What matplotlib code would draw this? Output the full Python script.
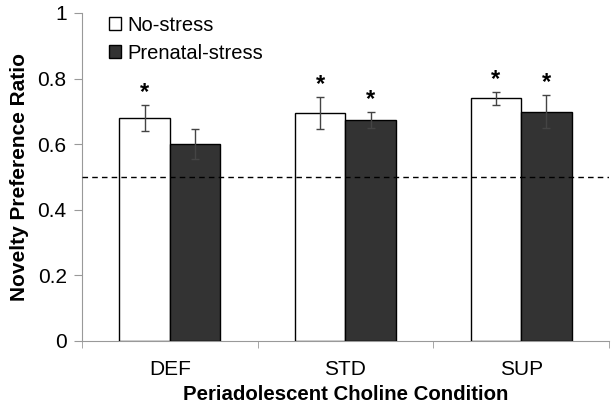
import matplotlib.pyplot as plt
import numpy as np

plt.rcParams["font.family"] = ["Liberation Sans", "DejaVu Sans"]

conditions = ["DEF", "STD", "SUP"]
groups = ["No-stress", "Prenatal-stress"]
no_stress = [0.679, 0.694, 0.740]
no_stress_err = [0.040, 0.049, 0.020]
prenatal = [0.600, 0.674, 0.699]
prenatal_err = [0.045, 0.024, 0.050]
no_stress_sig = [True, True, True]
prenatal_sig = [False, True, True]
chance = 0.5

fig = plt.figure(figsize=(6.12, 4.04), dpi=100)
ax = fig.add_axes([0.134, 0.156, 0.861, 0.812])

x = np.arange(len(conditions))
w = 0.287
err_kw = dict(ecolor="#444444", elinewidth=1, capsize=3, capthick=1)
ax.bar(x - w / 2, no_stress, w, yerr=no_stress_err, color="white",
       edgecolor="black", linewidth=1, label=groups[0], error_kw=err_kw, zorder=3)
ax.bar(x + w / 2, prenatal, w, yerr=prenatal_err, color="#333333",
       edgecolor="black", linewidth=1, label=groups[1], error_kw=err_kw, zorder=3)

for xs, vals, errs, sig in [(x - w / 2, no_stress, no_stress_err, no_stress_sig),
                            (x + w / 2, prenatal, prenatal_err, prenatal_sig)]:
    for xi, v, e, s in zip(xs, vals, errs, sig):
        if s:
            ax.text(xi, v + e + 0.003, "*", ha="center", va="bottom",
                    fontsize=17, fontweight="bold", zorder=4)

ax.axhline(chance, color="black", linestyle=(0, (4, 3)), linewidth=1, zorder=4)

ax.set_xlim(-0.5, len(conditions) - 0.5)
ax.set_ylim(0, 1)
ax.set_yticks([0, 0.2, 0.4, 0.6, 0.8, 1])
ax.set_yticklabels(["0", "0.2", "0.4", "0.6", "0.8", "1"])
ax.set_xticks(x)
ax.set_xticklabels(conditions)
ax.set_xticks(np.arange(-0.5, len(conditions)), minor=True)
ax.tick_params(axis="x", which="major", length=0, labelsize=15, pad=14)
ax.tick_params(axis="x", which="minor", length=5, color="#999999")
ax.tick_params(axis="y", length=6, color="#999999", labelsize=15, pad=5)

for side in ["top", "right"]:
    ax.spines[side].set_visible(False)
for side in ["left", "bottom"]:
    ax.spines[side].set_color("#999999")

ax.set_xlabel("Periadolescent Choline Condition", fontsize=14.7, fontweight="bold", labelpad=4)
ax.set_ylabel("Novelty Preference Ratio", fontsize=15, fontweight="bold", labelpad=6)

ax.legend(loc="upper left", bbox_to_anchor=(0.025, 1.035), frameon=False, fontsize=14.5,
          handlelength=0.6, handleheight=0.6, handletextpad=0.3, labelspacing=0.45,
          borderaxespad=0.3)

fig.savefig("out.png", dpi=100)
